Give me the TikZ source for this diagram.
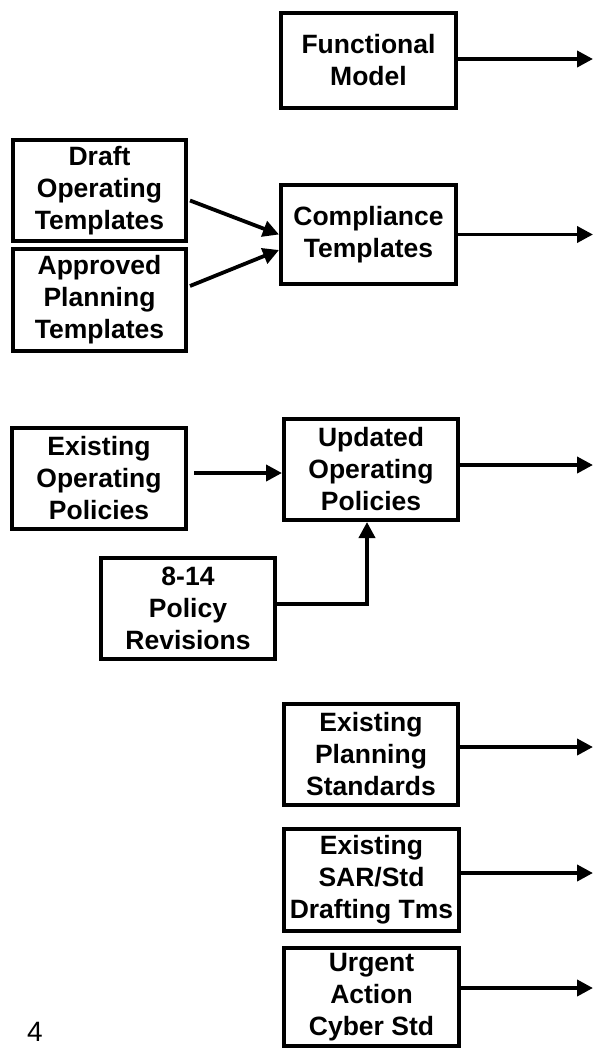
\documentclass[tikz,border=0pt]{standalone}
\usepackage{fontspec}
\setmainfont{Liberation Sans}
\usetikzlibrary{arrows.meta}
\begin{document}
\begin{tikzpicture}[x=1pt,y=-1pt,
  boxnode/.style={draw=black, line width=4pt, align=center, inner sep=0pt,
    font=\bfseries\fontsize{26.5}{32}\selectfont},
  arr/.style={line width=3.8pt, -{Triangle[length=16pt,width=16pt]}},
  link/.style={line width=3.8pt}]
\useasboundingbox[fill=white] (0,0) rectangle (594,1050);

\node[boxnode, minimum width=175pt, minimum height=95pt] (FM) at (368.5,60.5) {Functional\\Model};
\node[boxnode, minimum width=173pt, minimum height=101pt] (DOT) at (99.5,190.5) {Draft\\Operating\\Templates};
\node[boxnode, minimum width=173pt, minimum height=102pt] (APT) at (99.5,300) {Approved\\Planning\\Templates};
\node[boxnode, minimum width=175pt, minimum height=99pt] (CT) at (368.5,234.5) {Compliance\\Templates};
\node[boxnode, minimum width=174pt, minimum height=101pt] (EOP) at (99,478.5) {Existing\\Operating\\Policies};
\node[boxnode, minimum width=174pt, minimum height=101pt] (UOP) at (371,469.5) {Updated\\Operating\\Policies};
\node[boxnode, minimum width=174pt, minimum height=101pt] (PR) at (188,608.5) {8-14\\Policy\\Revisions};
\node[boxnode, minimum width=174pt, minimum height=101pt] (EPS) at (371,754.5) {Existing\\Planning\\Standards};
\node[boxnode, minimum width=175pt, minimum height=102pt] (SAR) at (371.5,880) {Existing\\SAR/Std\\Drafting Tms};
\node[boxnode, minimum width=175pt, minimum height=98pt] (UA) at (371.5,997) {Urgent\\Action\\Cyber Std};

\node[font=\fontsize{28}{30}\selectfont, inner sep=0pt] (pg) at (35,1032) {4};

\coordinate (oFM) at (593,59);
\coordinate (oCT) at (593,234.5);
\coordinate (oUOP) at (593,465);
\coordinate (oEPS) at (593,747);
\coordinate (oSAR) at (593,873);
\coordinate (oUA) at (593,988);

\draw[arr] (FM.east |- oFM) -- (oFM);
\draw[arr] (CT.east |- oCT) -- (oCT);
\draw[arr] (UOP.east |- oUOP) -- (oUOP);
\draw[arr] (EPS.east |- oEPS) -- (oEPS);
\draw[arr] (SAR.east |- oSAR) -- (oSAR);
\draw[arr] (UA.east |- oUA) -- (oUA);

\draw[arr] ([xshift=2pt,yshift=-10pt]DOT.east) -- ([yshift=0pt]CT.west);
\draw[arr] ([xshift=2pt,yshift=14pt]APT.east) -- ([yshift=-15.5pt]CT.west);
\draw[arr] ([xshift=6pt,yshift=5.5pt]EOP.east) -- ([yshift=5.5pt]EOP.east -| UOP.west);
\draw[arr] ([yshift=4.5pt]PR.east) -| ([xshift=-4pt]UOP.south);
\end{tikzpicture}
\end{document}
